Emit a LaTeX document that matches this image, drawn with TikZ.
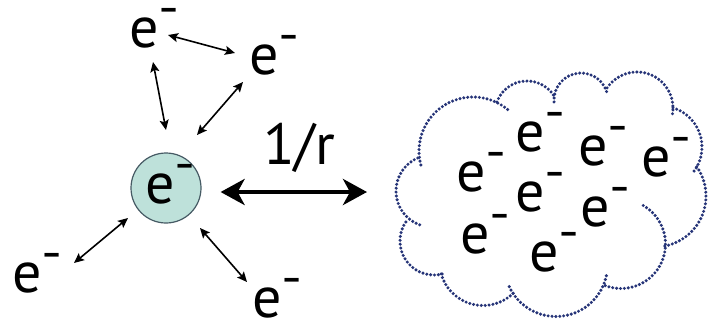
\documentclass[tikz,border=0pt]{standalone}
\usepackage{fontspec}
\setmainfont{PT Sans}
\usetikzlibrary{arrows.meta,calc}
\definecolor{cfill}{RGB}{190,225,218}
\definecolor{cdraw}{RGB}{70,90,100}
\definecolor{dotblue}{RGB}{38,52,120}
\newcommand\elec{e\rlap{\smash{\raisebox{28pt}{\fontsize{32}{32}\selectfont\bfseries\kern-0.5pt –}}}}
\begin{document}
\begin{tikzpicture}[x=1pt,y=-1pt,
  elec/.style={inner sep=0pt,font=\fontsize{58}{58}\selectfont},
  thinarr/.style={line width=1.6pt,{Stealth[length=10pt,width=9pt,inset=2pt]}-{Stealth[length=10pt,width=9pt,inset=2pt]}},
  bigarr/.style={line width=4.5pt,{Stealth[length=24pt,width=26pt,inset=7pt]}-{Stealth[length=24pt,width=26pt,inset=7pt]}},
  clouddots/.style={draw=dotblue,line width=3.4pt,line cap=round,dash pattern=on 0pt off 3.9pt}]
\useasboundingbox (0,0) rectangle (716,330);
\fill[white] (0,0) rectangle (716,330);

\node[circle,draw=cdraw,fill=cfill,line width=1.2pt,minimum size=70pt,inner sep=0pt] (c) at (166,188) {};
\node[elec] (ec) at (160,189) {\elec};
\node[elec] (e1) at (144,33) {\elec};
\node[elec] (e2) at (264,60) {\elec};
\node[elec] (e3) at (27,278) {\elec};
\node[elec] (e4) at (267,303) {\elec};
\node[elec] (lab) at (299,148) {1/r};

\draw[thinarr] ($(e1)+(24,2)$) -- ($(e2)+(-29,-7)$);
\draw[thinarr] ($(e1)+(9,29)$) -- ($(c)+(0,-58)$);
\draw[thinarr] ($(e2)+(-21,22)$) -- ($(c)+(31,-53)$);
\draw[thinarr] ($(c)+(-38,30)$) -- ($(e3)+(47,-15)$);
\draw[thinarr] ($(c)+(34,40)$) -- ($(e4)+(-20,-21)$);

\coordinate (cloudin) at (367,192);
\draw[bigarr] ($(c.east)+(19,4)$) -- (cloudin);

% cloud
\draw[clouddots] (432,191) ++(-110:36pt) arc[start angle=-110,end angle=-251,radius=36pt];
\draw[clouddots] (473,151) ++(-165:54pt) arc[start angle=-165,end angle=-310,radius=54pt];
\draw[clouddots] (527,113) ++(-200:32pt) arc[start angle=-200,end angle=-330,radius=32pt];
\draw[clouddots] (581,100) ++(-176:27pt) arc[start angle=-176,end angle=-350,radius=27pt];
\draw[clouddots] (637,108) ++(-214:36pt) arc[start angle=-214,end angle=-370,radius=36pt];
\draw[clouddots] (661,147) ++(-287:41pt) arc[start angle=-287,end angle=-400,radius=41pt];
\draw[clouddots] (655,196) ++(-325:51pt) arc[start angle=-325,end angle=-439,radius=51pt];
\draw[clouddots] (621,244) ++(-300:44.5pt) arc[start angle=-300,end angle=-472,radius=44.5pt];
\draw[clouddots] (556,265) ++(-12:51.5pt) arc[start angle=-12,end angle=-158,radius=51.5pt];
\draw[clouddots] (483,262) ++(-46:43.5pt) arc[start angle=-46,end angle=-168,radius=43.5pt];
\draw[clouddots] (434,241) ++(-76:34pt) arc[start angle=-76,end angle=-220,radius=34pt];

\node[elec] (ka) at (530,137) {\elec};
\node[elec] (kb) at (593,151) {\elec};
\node[elec] (kc) at (656,162) {\elec};
\node[elec] (kd) at (471,177) {\elec};
\node[elec] (ke) at (530,197) {\elec};
\node[elec] (kf) at (595,212) {\elec};
\node[elec] (kg) at (475,239) {\elec};
\node[elec] (kh) at (544,257) {\elec};
\end{tikzpicture}
\end{document}
